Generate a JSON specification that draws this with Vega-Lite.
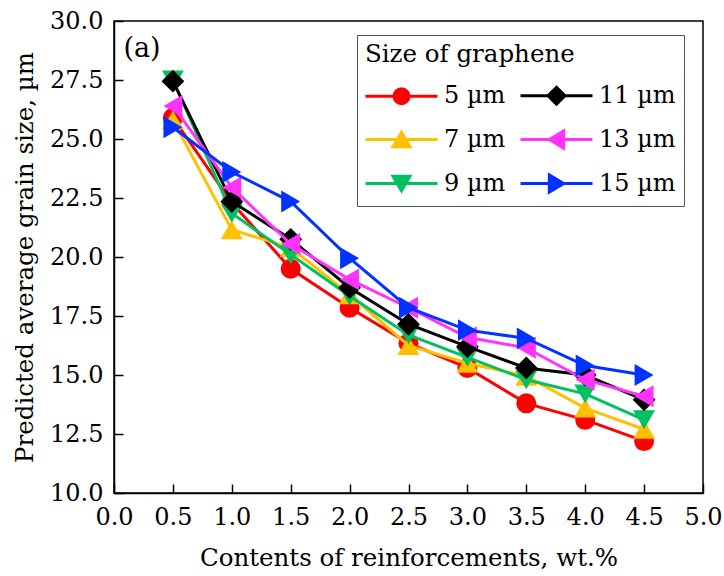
{
  "$schema": "https://vega.github.io/schema/vega-lite/v6.json",
  "width": 589,
  "height": 472,
  "autosize": {"type": "none"},
  "padding": {"left": 114, "top": 21, "right": 21, "bottom": 83},
  "background": "white",
  "config": {
    "font": "DejaVu Serif",
    "view": {"stroke": "black", "strokeWidth": 1.5},
    "axis": {
      "grid": false,
      "domainColor": "black",
      "domainWidth": 1.5,
      "tickColor": "black",
      "tickWidth": 1.5,
      "tickSize": -9,
      "labelColor": "black",
      "labelFont": "DejaVu Serif",
      "labelFontSize": 24,
      "titleColor": "black",
      "titleFont": "DejaVu Serif",
      "titleFontSize": 24.5,
      "titleFontWeight": "normal"
    }
  },
  "data": {
    "values": [
      {"x": 0.5, "v": 25.9, "s": "5 µm"},
      {"x": 1.0, "v": 22.3, "s": "5 µm"},
      {"x": 1.5, "v": 19.5, "s": "5 µm"},
      {"x": 2.0, "v": 17.85, "s": "5 µm"},
      {"x": 2.5, "v": 16.35, "s": "5 µm"},
      {"x": 3.0, "v": 15.3, "s": "5 µm"},
      {"x": 3.5, "v": 13.8, "s": "5 µm"},
      {"x": 4.0, "v": 13.1, "s": "5 µm"},
      {"x": 4.5, "v": 12.2, "s": "5 µm"},
      {"x": 0.5, "v": 25.8, "s": "7 µm"},
      {"x": 1.0, "v": 21.15, "s": "7 µm"},
      {"x": 1.5, "v": 20.4, "s": "7 µm"},
      {"x": 2.0, "v": 18.4, "s": "7 µm"},
      {"x": 2.5, "v": 16.25, "s": "7 µm"},
      {"x": 3.0, "v": 15.5, "s": "7 µm"},
      {"x": 3.5, "v": 14.95, "s": "7 µm"},
      {"x": 4.0, "v": 13.6, "s": "7 µm"},
      {"x": 4.5, "v": 12.7, "s": "7 µm"},
      {"x": 0.5, "v": 27.5, "s": "9 µm"},
      {"x": 1.0, "v": 21.85, "s": "9 µm"},
      {"x": 1.5, "v": 20.1, "s": "9 µm"},
      {"x": 2.0, "v": 18.35, "s": "9 µm"},
      {"x": 2.5, "v": 16.7, "s": "9 µm"},
      {"x": 3.0, "v": 15.75, "s": "9 µm"},
      {"x": 3.5, "v": 14.8, "s": "9 µm"},
      {"x": 4.0, "v": 14.2, "s": "9 µm"},
      {"x": 4.5, "v": 13.1, "s": "9 µm"},
      {"x": 0.5, "v": 27.45, "s": "11 µm"},
      {"x": 1.0, "v": 22.35, "s": "11 µm"},
      {"x": 1.5, "v": 20.75, "s": "11 µm"},
      {"x": 2.0, "v": 18.7, "s": "11 µm"},
      {"x": 2.5, "v": 17.15, "s": "11 µm"},
      {"x": 3.0, "v": 16.2, "s": "11 µm"},
      {"x": 3.5, "v": 15.3, "s": "11 µm"},
      {"x": 4.0, "v": 15.0, "s": "11 µm"},
      {"x": 4.5, "v": 13.95, "s": "11 µm"},
      {"x": 0.5, "v": 26.4, "s": "13 µm"},
      {"x": 1.0, "v": 22.95, "s": "13 µm"},
      {"x": 1.5, "v": 20.55, "s": "13 µm"},
      {"x": 2.0, "v": 19.05, "s": "13 µm"},
      {"x": 2.5, "v": 17.85, "s": "13 µm"},
      {"x": 3.0, "v": 16.6, "s": "13 µm"},
      {"x": 3.5, "v": 16.15, "s": "13 µm"},
      {"x": 4.0, "v": 14.8, "s": "13 µm"},
      {"x": 4.5, "v": 14.1, "s": "13 µm"},
      {"x": 0.5, "v": 25.5, "s": "15 µm"},
      {"x": 1.0, "v": 23.6, "s": "15 µm"},
      {"x": 1.5, "v": 22.35, "s": "15 µm"},
      {"x": 2.0, "v": 19.95, "s": "15 µm"},
      {"x": 2.5, "v": 17.85, "s": "15 µm"},
      {"x": 3.0, "v": 16.9, "s": "15 µm"},
      {"x": 3.5, "v": 16.55, "s": "15 µm"},
      {"x": 4.0, "v": 15.4, "s": "15 µm"},
      {"x": 4.5, "v": 15.0, "s": "15 µm"}
    ]
  },
  "encoding": {
    "x": {
      "field": "x", "type": "quantitative",
      "scale": {"domain": [0, 5], "nice": false, "zero": false},
      "axis": {
        "values": [0, 0.5, 1, 1.5, 2, 2.5, 3, 3.5, 4, 4.5, 5],
        "format": ".1f",
        "labelPadding": 21,
        "labelFlush": false,
        "labelOverlap": false,
        "title": "Contents of reinforcements, wt.%",
        "titleBaseline": "alphabetic",
        "titleY": 72
      }
    },
    "y": {
      "field": "v", "type": "quantitative",
      "scale": {"domain": [10, 30], "nice": false, "zero": false},
      "axis": {
        "values": [10, 12.5, 15, 17.5, 20, 22.5, 25, 27.5, 30],
        "format": ".1f",
        "labelPadding": 20,
        "labelFlush": false,
        "labelOverlap": false,
        "title": "Predicted average grain size, µm",
        "titleBaseline": "alphabetic",
        "titleX": -82
      }
    },
    "color": {
      "field": "s", "type": "nominal",
      "scale": {
        "domain": ["5 µm", "7 µm", "9 µm", "11 µm", "13 µm", "15 µm"],
        "range": ["#FF0000", "#FFC000", "#00C060", "#000000", "#FF33FF", "#0033FF"]
      },
      "legend": {
        "title": "Size of graphene",
        "orient": "none",
        "legendX": 243,
        "legendY": 14,
        "columns": 2,
        "symbolSize": 400,
        "symbolStrokeWidth": 3,
        "labelFont": "DejaVu Serif",
        "labelFontSize": 24,
        "labelColor": "black",
        "labelLimit": 0,
        "labelOffset": 55,
        "titleFont": "DejaVu Serif",
        "titleFontSize": 24.5,
        "titleFontWeight": "normal",
        "titleColor": "black",
        "titleLimit": 0,
        "titlePadding": 16,
        "strokeColor": "#555555",
        "padding": 8,
        "rowPadding": 14,
        "columnPadding": 8,
        "encode": {
          "symbols": {
            "update": {
              "shape": {"signal": "datum.value === '5 µm' ? 'M-1.15,0H6.05M3.2,0A0.75,0.75,0,1,1,1.7,0A0.75,0.75,0,1,1,3.2,0Z' : datum.value === '11 µm' ? 'M-1.15,0H6.05M2.45,-0.85L3.3,0L2.45,0.85L1.6,0Z' : datum.value === '7 µm' ? 'M-1.15,0H6.05M2.45,-0.72L3.3,0.72L1.6,0.72Z' : datum.value === '13 µm' ? 'M-1.15,0H6.05M1.73,0L3.17,-0.85L3.17,0.85Z' : datum.value === '9 µm' ? 'M-1.15,0H6.05M2.45,0.72L3.3,-0.72L1.6,-0.72Z' : 'M-1.15,0H6.05M3.17,0L1.73,-0.85L1.73,0.85Z'"},
              "fill": {"signal": "scale('color', datum.value)"},
              "stroke": {"signal": "scale('color', datum.value)"},
              "strokeWidth": {"value": 3},
              "opacity": {"value": 1},
              "fillOpacity": {"value": 1}
            }
          }
        }
      }
    }
  },
  "layer": [
    {"transform": [{"filter": "datum.s === '5 µm'"}], "mark": {"type": "line", "strokeWidth": 3}},
    {"transform": [{"filter": "datum.s === '5 µm'"}], "mark": {"type": "point", "filled": true, "opacity": 1, "size": 400, "shape": "circle"}},
    {"transform": [{"filter": "datum.s === '7 µm'"}], "mark": {"type": "line", "strokeWidth": 3}},
    {"transform": [{"filter": "datum.s === '7 µm'"}], "mark": {"type": "point", "filled": true, "opacity": 1, "size": 480, "shape": "triangle-up"}},
    {"transform": [{"filter": "datum.s === '9 µm'"}], "mark": {"type": "line", "strokeWidth": 3}},
    {"transform": [{"filter": "datum.s === '9 µm'"}], "mark": {"type": "point", "filled": true, "opacity": 1, "size": 480, "shape": "triangle-down"}},
    {"transform": [{"filter": "datum.s === '11 µm'"}], "mark": {"type": "line", "strokeWidth": 3}},
    {"transform": [{"filter": "datum.s === '11 µm'"}], "mark": {"type": "point", "filled": true, "opacity": 1, "size": 520, "shape": "diamond"}},
    {"transform": [{"filter": "datum.s === '13 µm'"}], "mark": {"type": "line", "strokeWidth": 3}},
    {"transform": [{"filter": "datum.s === '13 µm'"}], "mark": {"type": "point", "filled": true, "opacity": 1, "size": 480, "shape": "triangle-left"}},
    {"transform": [{"filter": "datum.s === '15 µm'"}], "mark": {"type": "line", "strokeWidth": 3}},
    {"transform": [{"filter": "datum.s === '15 µm'"}], "mark": {"type": "point", "filled": true, "opacity": 1, "size": 480, "shape": "triangle-right"}},
    {
      "data": {"values": [{"x": 0.08, "v": 28.8, "label": "(a)"}]},
      "mark": {"type": "text", "align": "left", "baseline": "middle", "font": "DejaVu Serif", "fontSize": 27, "color": "black"},
      "encoding": {
        "x": {"field": "x", "type": "quantitative"},
        "y": {"field": "v", "type": "quantitative"},
        "text": {"field": "label"},
        "color": {"value": "black"}
      }
    }
  ]
}
